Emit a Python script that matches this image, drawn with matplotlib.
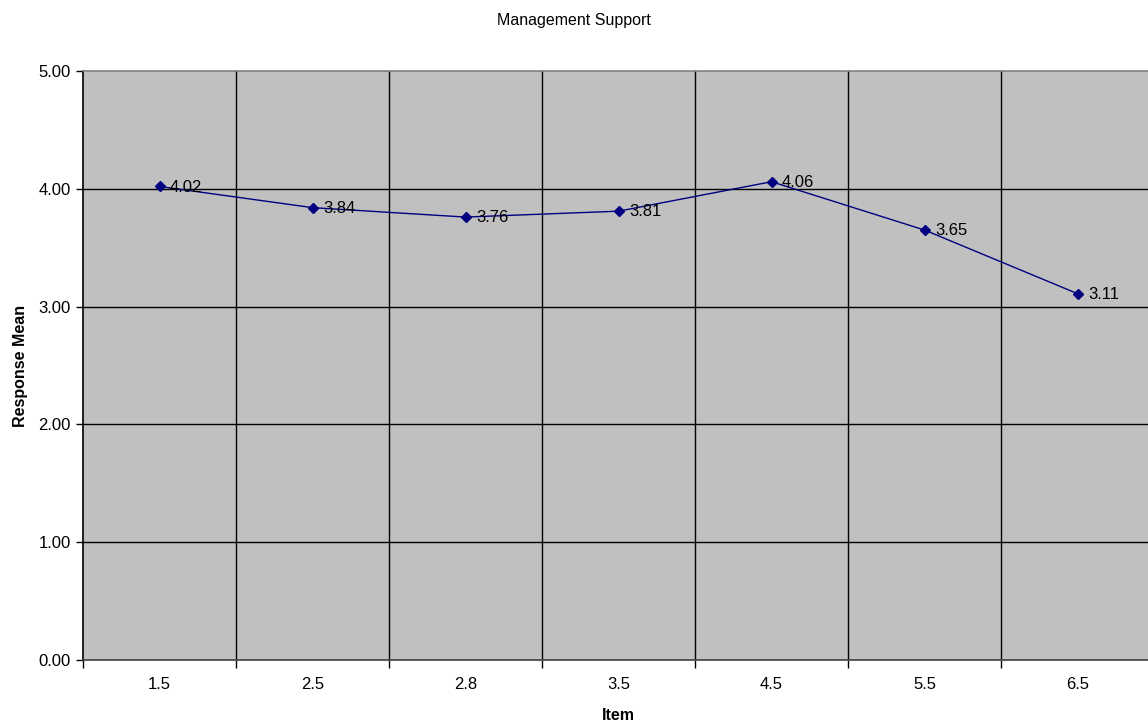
import numpy as np
import matplotlib.pyplot as plt

plt.rcParams['font.family'] = ['Liberation Sans', 'DejaVu Sans']

items = ['1.5', '2.5', '2.8', '3.5', '4.5', '5.5', '6.5']
means = [4.02, 3.84, 3.76, 3.81, 4.06, 3.65, 3.11]
y_ticks = [0, 1, 2, 3, 4, 5]

fig = plt.figure(figsize=(11.48, 7.23), dpi=100)
ax = fig.add_axes([83/1148, 63/723, 1071/1148, 589/723])
ax.set_facecolor('#c0c0c0')

x = np.arange(len(items))
ax.plot(x, means, color='#000080', lw=1.0, marker='D', ms=5, zorder=3)
for xi, m in zip(x, means):
    ax.annotate('%.2f' % m, (xi, m), textcoords='offset points', xytext=(7.5, -0.5),
                va='center', fontsize=12, color='black', zorder=4)

ax.set_xlim(-0.5, len(items) - 0.5)
ax.set_ylim(0, 5)
ax.set_yticks(y_ticks)
ax.set_yticklabels(['%.2f' % v for v in y_ticks], fontsize=12)
ax.set_xticks(x)
ax.set_xticklabels(items, fontsize=12)
ax.tick_params(axis='x', length=0, pad=12)
ax.tick_params(axis='y', length=5, width=1, direction='out', pad=4)
ax.set_xticks(np.arange(-0.5, len(items)), minor=True)
ax.tick_params(axis='x', which='minor', length=6, width=1, direction='out')

for yv in y_ticks[1:-1]:
    ax.axhline(yv, color='black', lw=1, zorder=1)
for b in np.arange(0.5, len(items) - 0.5):
    ax.axvline(b, color='black', lw=1, zorder=1)

ax.spines['top'].set_color('#808080')
ax.spines['right'].set_color('#808080')
ax.spines['left'].set_color('black')
ax.spines['bottom'].set_color('#404040')
for s in ax.spines.values():
    s.set_linewidth(1.2)

ax.set_xlabel('Item', fontsize=11.5, fontweight='bold', labelpad=12)
ax.set_ylabel('Response Mean', fontsize=11.5, fontweight='bold', labelpad=7)
fig.text(0.5, 1 - 21/723, 'Management Support', ha='center', va='center', fontsize=11.5)

fig.savefig('out.png', dpi=100)
